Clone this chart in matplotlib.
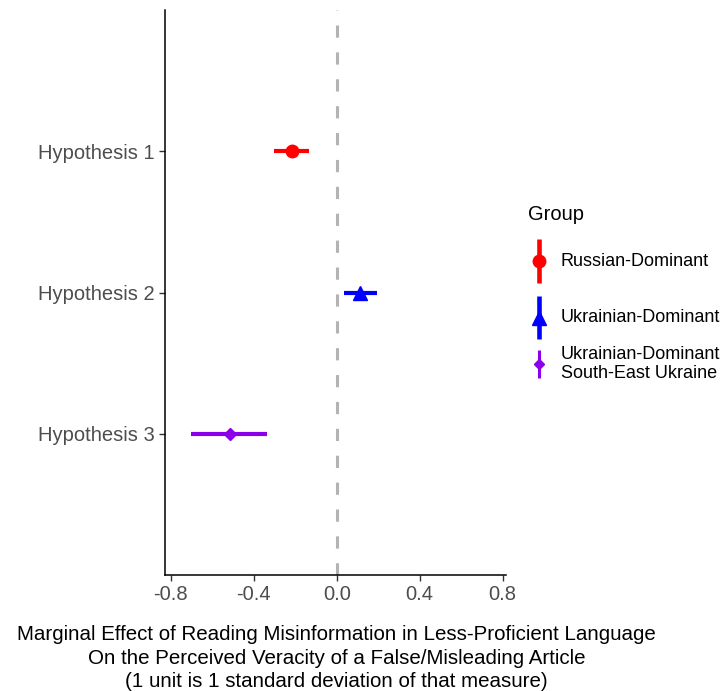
import matplotlib.pyplot as plt
from matplotlib.lines import Line2D

# Data
hypotheses = ["Hypothesis 1", "Hypothesis 2", "Hypothesis 3"]
groups = ["Russian-Dominant", "Ukrainian-Dominant", "Ukrainian-Dominant\nSouth-East Ukraine"]
estimates = [-0.217, 0.112, -0.516]
ci_low = [-0.302, 0.037, -0.704]
ci_high = [-0.135, 0.194, -0.336]
colors = ["#FF0000", "#0000FF", "#8B00E8"]
markers = ["o", "^", "D"]
marker_sizes = [9, 10.5, 6.5]
x_ticks = [-0.8, -0.4, 0.0, 0.4, 0.8]

plt.rcParams["font.family"] = ["Liberation Sans", "DejaVu Sans"]

fig = plt.figure(figsize=(7.25, 6.91), dpi=100)
ax = fig.add_axes([165 / 725, 1 - 575 / 691, (506 - 165) / 725, (575 - 10) / 691])

ax.axvline(0, color="#B3B3B3", lw=2.2, ls=(0, (4, 4.8)), zorder=1)

for i, (est, lo, hi) in enumerate(zip(estimates, ci_low, ci_high)):
    y = i + 1
    ax.plot([lo, hi], [y, y], color=colors[i], lw=3, solid_capstyle="butt", zorder=2)
    ax.plot(est, y, marker=markers[i], color=colors[i], ms=marker_sizes[i], ls="none", zorder=3)

ax.set_xlim(-0.828, 0.816)
ax.set_ylim(4.0, 0.0)
ax.set_yticks([1, 2, 3])
ax.set_yticklabels(hypotheses)
ax.set_xticks(x_ticks)
ax.set_xticklabels([f"{t:.1f}" for t in x_ticks])
ax.tick_params(labelsize=14.5, labelcolor="#4D4D4D", length=4, width=1, color="#333333")
for side in ["top", "right"]:
    ax.spines[side].set_visible(False)
for side in ["left", "bottom"]:
    ax.spines[side].set_linewidth(1.1)

fig.text(336.5 / 725, 1 - 658 / 691,
         "Marginal Effect of Reading Misinformation in Less-Proficient Language\n"
         "On the Perceived Veracity of a False/Misleading Article\n"
         "(1 unit is 1 standard deviation of that measure)",
         ha="center", va="center", fontsize=14.8, linespacing=1.28)

# legend drawn by hand with vertical keys, like ggplot's pointrange legend
lax = fig.add_axes([0, 0, 1, 1], facecolor="none")
lax.set_xlim(0, 725)
lax.set_ylim(691, 0)
lax.axis("off")
lax.text(528, 214, "Group", fontsize=14.5, va="center", ha="left")
key_spans = [(239, 283), (296, 339), (350, 378)]
key_widths = [3.3, 3.3, 2.2]
key_ms = [9, 10, 5.5]
for i, g in enumerate(groups):
    top, bot = key_spans[i]
    mid = (top + bot) / 2
    lax.add_line(Line2D([539, 539], [top, bot], color=colors[i], lw=key_widths[i], solid_capstyle="butt"))
    lax.plot(539, mid, marker=markers[i], color=colors[i], ms=key_ms[i], ls="none")
    lax.text(561, mid, g, fontsize=13, va="center", ha="left", linespacing=1.15)

fig.savefig("out.png", dpi=100)
